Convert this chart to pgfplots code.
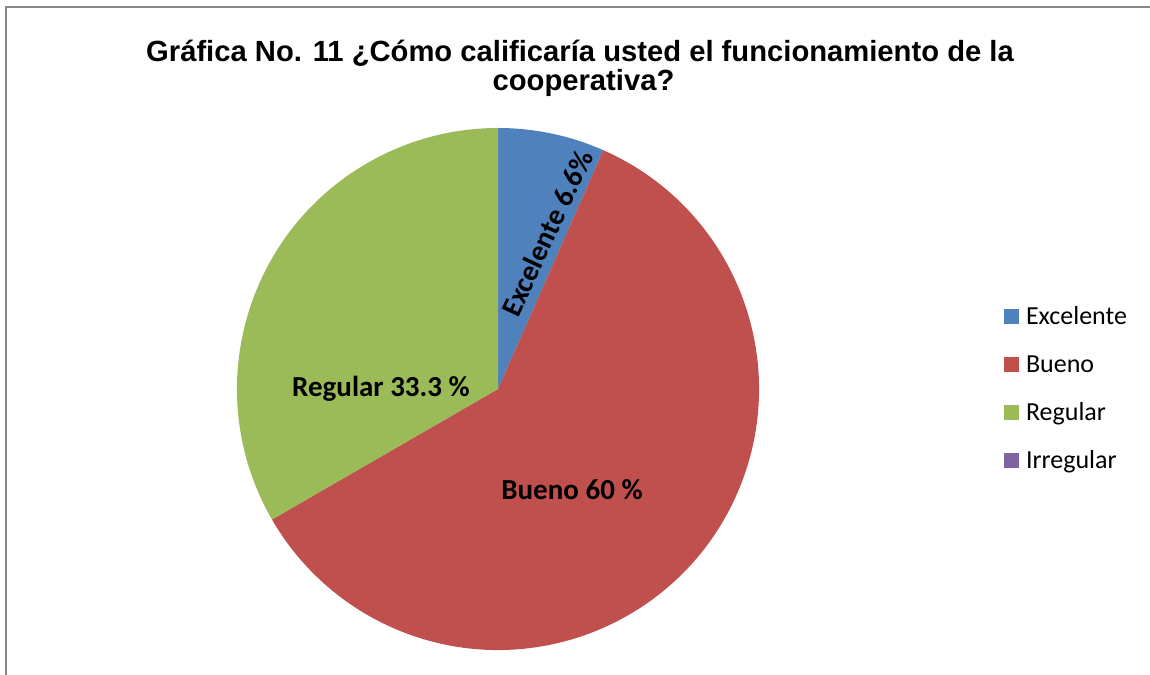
\documentclass[border=0pt]{standalone}
\usepackage{pgfplots}
\pgfplotsset{compat=1.18}
\usepackage{fontspec}
\setmainfont{Liberation Sans}
\newfontfamily\carlito{Carlito}
\definecolor{cA}{HTML}{4F81BD}
\definecolor{cB}{HTML}{C0504D}
\definecolor{cC}{HTML}{9BBB59}
\definecolor{cD}{HTML}{8064A2}
% data (percent)
\def\vA{6.6}\def\vB{60}\def\vC{33.3}\def\vD{0}
\pgfmathsetmacro\tot{\vA+\vB+\vC+\vD}
\pgfmathsetmacro\aA{90}
\pgfmathsetmacro\aB{\aA-\vA/\tot*360}
\pgfmathsetmacro\aC{\aB-\vB/\tot*360}
\pgfmathsetmacro\aD{\aC-\vC/\tot*360}
\pgfmathsetmacro\aE{\aD-\vD/\tot*360}
\begin{document}
\begin{tikzpicture}
\useasboundingbox (0,0) rectangle (1150pt,674pt);
\begin{axis}[
  at={(0,0)}, anchor=south west,
  scale only axis, width=1150pt, height=674pt,
  xmin=0, xmax=1150, ymin=0, ymax=674,
  hide axis, clip=false,
  legend style={at={(axis cs:1004,367)}, anchor=north west, draw=none, fill=none,
    inner sep=0pt, outer sep=0pt,
    font=\carlito\fontsize{26}{30}\selectfont, row sep=24pt,
    nodes={inner sep=0pt, text height=18pt, text depth=6pt},
    /tikz/every odd column/.append style={column sep=7pt}},
  legend cell align=left,
  legend image code/.code={\path[draw=none] (0pt,-5.1pt) rectangle (15pt,9.9pt);},
]
\addlegendimage{fill=cA, draw=none}\addlegendentry{Excelente}
\addlegendimage{fill=cB, draw=none}\addlegendentry{Bueno}
\addlegendimage{fill=cC, draw=none}\addlegendentry{Regular}
\addlegendimage{fill=cD, draw=none}\addlegendentry{Irregular}
\fill[cA] (axis cs:498,285) -- ++(\aA:261pt) arc[start angle=\aA, end angle=\aB, radius=261pt] -- cycle;
\fill[cB] (axis cs:498,285) -- ++(\aB:261pt) arc[start angle=\aB, end angle=\aC, radius=261pt] -- cycle;
\fill[cC] (axis cs:498,285) -- ++(\aC:261pt) arc[start angle=\aC, end angle=\aD, radius=261pt] -- cycle;
\node[anchor=base, font=\bfseries\fontsize{29.2}{30}\selectfont] at (axis cs:580,612) {Gráfica No. 11 ¿Cómo calificaría usted el funcionamiento de la};
\node[anchor=base, font=\bfseries\fontsize{29.2}{30}\selectfont] at (axis cs:583.5,583) {cooperativa?};
\node[anchor=base, font=\carlito\bfseries\fontsize{29}{30}\selectfont] at (axis cs:381,277) {Regular 33.3 \%};
\node[anchor=base, font=\carlito\bfseries\fontsize{29}{30}\selectfont] at (axis cs:572,174) {Bueno 60 \%};
\node[rotate=65, font=\carlito\bfseries\fontsize{29}{30}\selectfont] at (axis cs:547,441) {Excelente 6.6\%};
\draw[color=black!47, line width=1.5pt] (axis cs:6,-10) -- (axis cs:6,667) -- (axis cs:1160,667);
\end{axis}
\end{tikzpicture}
\end{document}
